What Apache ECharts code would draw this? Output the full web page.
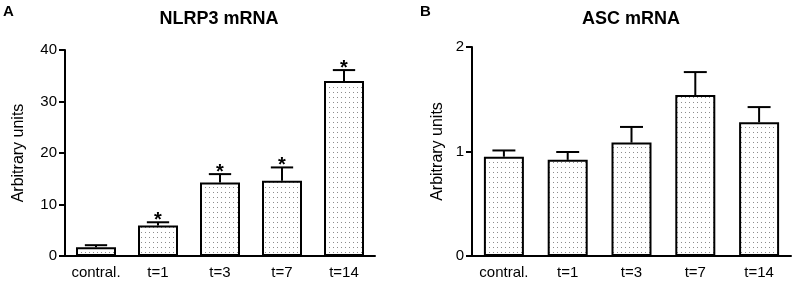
<!DOCTYPE html>
<html>
<head>
<meta charset="utf-8">
<script src="https://cdn.jsdelivr.net/npm/echarts@6/dist/echarts.min.js"></script>
<style>
  html, body { margin: 0; padding: 0; background: #fff; }
  #chart { width: 796px; height: 281px; }
</style>
</head>
<body>
<div id="chart"></div>
<script>
// categories
var categories = ['contral.', 't=1', 't=3', 't=7', 't=14'];
// NLRP3 mRNA (panel A)
var nlrp3Mean = [1.7, 5.9, 14.25, 14.6, 34.0];
var nlrp3Err = [0.4, 0.65, 1.65, 2.6, 2.1];
var nlrp3Sig = [false, true, true, true, true];
// ASC mRNA (panel B)
var ascMean = [0.95, 0.92, 1.085, 1.54, 1.28];
var ascErr = [0.06, 0.075, 0.15, 0.22, 0.145];
var ascSig = [false, false, false, false, false];
// y tick settings
var nlrp3Max = 40, nlrp3Step = 10;
var ascMax = 2, ascStep = 1;

var FONT = 'Liberation Sans, Arial, Helvetica, sans-serif';

// 点状填充
function dotPattern() {
  var c = document.createElement('canvas');
  c.width = 4;
  c.height = 5;
  var ctx = c.getContext('2d');
  ctx.fillStyle = '#ffffff';
  ctx.fillRect(0, 0, 4, 5);
  ctx.fillStyle = '#8c8c8c';
  ctx.fillRect(1, 2, 1, 1);
  return c;
}
var pattern = { image: dotPattern(), repeat: 'repeat' };

function errorSeries(idx, mean, err, sig) {
  return {
    type: 'custom',
    xAxisIndex: idx,
    yAxisIndex: idx,
    z: 3,
    data: mean.map(function (v, i) { return [i, v, v + err[i], sig[i] ? 1 : 0]; }),
    renderItem: function (params, api) {
      var x = api.value(0);
      var top = api.coord([x, api.value(1)]);
      var hi = api.coord([x, api.value(2)]);
      var half = api.size([1, 0])[0] * 0.18;
      var style = { stroke: '#000', lineWidth: 2 };
      var children = [
        { type: 'line', shape: { x1: top[0], y1: top[1], x2: hi[0], y2: hi[1] }, style: style },
        { type: 'line', shape: { x1: hi[0] - half, y1: hi[1], x2: hi[0] + half, y2: hi[1] }, style: style }
      ];
      if (api.value(3)) {
        children.push({
          type: 'text',
          style: {
            text: '*', x: hi[0], y: hi[1] - 2,
            align: 'center', verticalAlign: 'middle',
            font: 'bold 20px ' + FONT, fill: '#000'
          }
        });
      }
      return { type: 'group', children: children };
    }
  };
}

function barSeries(idx, mean) {
  return {
    type: 'bar',
    xAxisIndex: idx,
    yAxisIndex: idx,
    data: mean,
    barWidth: 40,
    itemStyle: { color: pattern, borderColor: '#000', borderWidth: 2 },
    z: 2
  };
}

function xAxis(idx) {
  return {
    type: 'category',
    gridIndex: idx,
    data: categories,
    axisLine: { lineStyle: { color: '#000', width: 2 } },
    axisTick: { show: false },
    axisLabel: { color: '#000', fontSize: 15, fontFamily: FONT, margin: 9, interval: 0 }
  };
}

function yAxis(idx, max, step, gap) {
  return {
    type: 'value',
    gridIndex: idx,
    min: 0,
    max: max,
    interval: step,
    name: 'Arbitrary units',
    nameLocation: 'middle',
    nameGap: gap,
    nameTextStyle: { color: '#000', fontSize: 16, fontFamily: FONT },
    axisLine: { show: true, lineStyle: { color: '#000', width: 2 } },
    axisTick: { show: true, length: 6, lineStyle: { color: '#000', width: 2 } },
    axisLabel: { color: '#000', fontSize: 15, fontFamily: FONT, margin: 8 },
    splitLine: { show: false }
  };
}

var chart = echarts.init(document.getElementById('chart'), null, { renderer: 'canvas' });
chart.setOption({
  backgroundColor: '#fff',
  animation: false,
  grid: [
    { left: 65, width: 310, top: 50, bottom: 25 },
    { left: 472, width: 319, top: 47, bottom: 25 }
  ],
  xAxis: [xAxis(0), xAxis(1)],
  yAxis: [yAxis(0, nlrp3Max, nlrp3Step, 38), yAxis(1, ascMax, ascStep, 26)],
  series: [
    barSeries(0, nlrp3Mean),
    errorSeries(0, nlrp3Mean, nlrp3Err, nlrp3Sig),
    barSeries(1, ascMean),
    errorSeries(1, ascMean, ascErr, ascSig)
  ],
  graphic: [
    { type: 'text', left: 3, top: 4, style: { text: 'A', font: 'bold 15px ' + FONT, fill: '#000' } },
    { type: 'text', left: 420, top: 4, style: { text: 'B', font: 'bold 15px ' + FONT, fill: '#000' } },
    { type: 'text', x: 219, y: 19, style: { text: 'NLRP3 mRNA', font: 'bold 18px ' + FONT, fill: '#000', align: 'center', verticalAlign: 'middle' } },
    { type: 'text', x: 631, y: 19, style: { text: 'ASC mRNA', font: 'bold 18px ' + FONT, fill: '#000', align: 'center', verticalAlign: 'middle' } }
  ]
});
</script>
</body>
</html>
